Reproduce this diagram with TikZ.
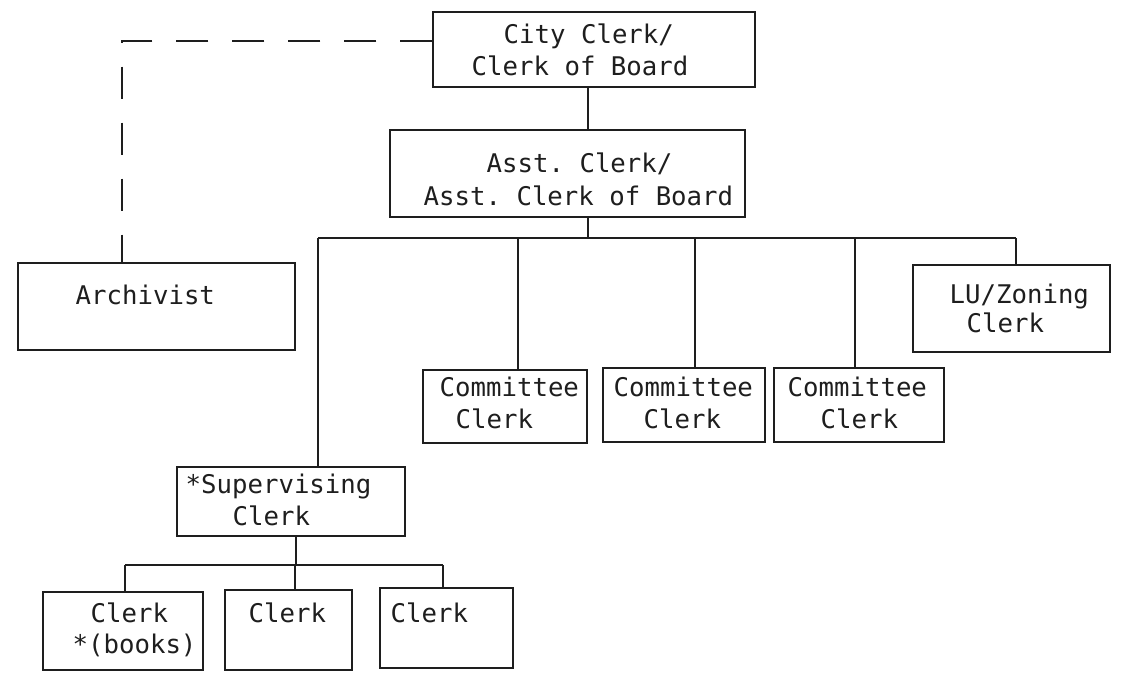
\documentclass[tikz,border=0pt]{standalone}
\usepackage{fontspec}
\setmonofont{DejaVu Sans Mono}
\definecolor{ink}{HTML}{1E1E1E}
\begin{document}
\begin{tikzpicture}[x=1pt,y=-1pt,line width=1.4pt,color=ink,
  box/.style={draw=ink,rectangle,inner sep=0pt},
  txt/.style={anchor=base west,inner sep=0pt,text=ink,font=\ttfamily\fontsize{25.7}{30}\selectfont},
  link/.style={draw=ink,line width=1.4pt},
  dlink/.style={draw=ink,line width=1.4pt,dash pattern=on 32pt off 24pt}]
\fill[white] (0,0) rectangle (1125,673);
\useasboundingbox (0,0) rectangle (1125,673);
% boxes
\node[box,minimum width=322pt,minimum height=75pt] (cc) at (594,49.5) {};
\node[box,minimum width=355pt,minimum height=87pt] (ac) at (567.5,173.5) {};
\node[box,minimum width=277pt,minimum height=87pt] (ar) at (156.5,306.5) {};
\node[box,minimum width=197pt,minimum height=87pt] (lu) at (1011.5,308.5) {};
\node[box,minimum width=164pt,minimum height=73pt] (c1) at (505,406.5) {};
\node[box,minimum width=162pt,minimum height=74pt] (c2) at (684,405) {};
\node[box,minimum width=170pt,minimum height=74pt] (c3) at (859,405) {};
\node[box,minimum width=228pt,minimum height=69pt] (sv) at (291,501.5) {};
\node[box,minimum width=160pt,minimum height=78pt] (k1) at (123,631) {};
\node[box,minimum width=127pt,minimum height=80pt] (k2) at (288.5,630) {};
\node[box,minimum width=133pt,minimum height=80pt] (k3) at (446.5,628) {};
% texts
\node[txt] (t1) at (503,43) {City Clerk/};
\node[txt] (t2) at (471,75) {Clerk of Board};
\node[txt] (t3) at (486,172) {Asst. Clerk/};
\node[txt] (t4) at (423,205) {Asst. Clerk of Board};
\node[txt] (t5) at (75,304) {Archivist};
\node[txt] (t6) at (949,303) {LU/Zoning};
\node[txt] (t7) at (966,332) {Clerk};
\node[txt] (t8) at (439,396) {Committee};
\node[txt] (t9) at (455,428) {Clerk};
\node[txt] (t10) at (613,396) {Committee};
\node[txt] (t11) at (643,428) {Clerk};
\node[txt] (t12) at (787,396) {Committee};
\node[txt] (t13) at (820,428) {Clerk};
\node[txt] (t14) at (185,493) {*Supervising};
\node[txt] (t15) at (232,525) {Clerk};
\node[txt] (t16) at (90,622) {Clerk};
\node[txt] (t17) at (72,653) {*(books)};
\node[txt] (t18) at (248,622) {Clerk};
\node[txt] (t19) at (390,622) {Clerk};
% bus coordinates
\coordinate (b0) at (588,238);
\coordinate (bl) at (318,238);
\coordinate (bc1) at (518,238);
\coordinate (bc2) at (695,238);
\coordinate (bc3) at (855,238);
\coordinate (br) at (1016,238);
\coordinate (d0) at (122,41);
\coordinate (s0) at (296,565);
\coordinate (sl) at (125,565);
\coordinate (sm) at (295,565);
\coordinate (sr) at (443,565);
% connectors
\draw[link] (cc.south -| b0) -- (ac.north -| b0);
\draw[link] (ac.south -| b0) -- (b0);
\draw[link] (bl) -- (br);
\draw[link] (bl) -- (sv.north -| bl);
\draw[link] (bc1) -- (c1.north -| bc1);
\draw[link] (bc2) -- (c2.north -| bc2);
\draw[link] (bc3) -- (c3.north -| bc3);
\draw[link] (br) -- (lu.north -| br);
\draw[dlink] (cc.west |- d0) -- (d0) -- (ar.north -| d0);
\draw[link] (sv.south -| s0) -- (s0);
\draw[link] (sl) -- (sr);
\draw[link] (sl) -- (k1.north -| sl);
\draw[link] (sm) -- (k2.north -| sm);
\draw[link] (sr) -- (k3.north -| sr);
\end{tikzpicture}
\end{document}
